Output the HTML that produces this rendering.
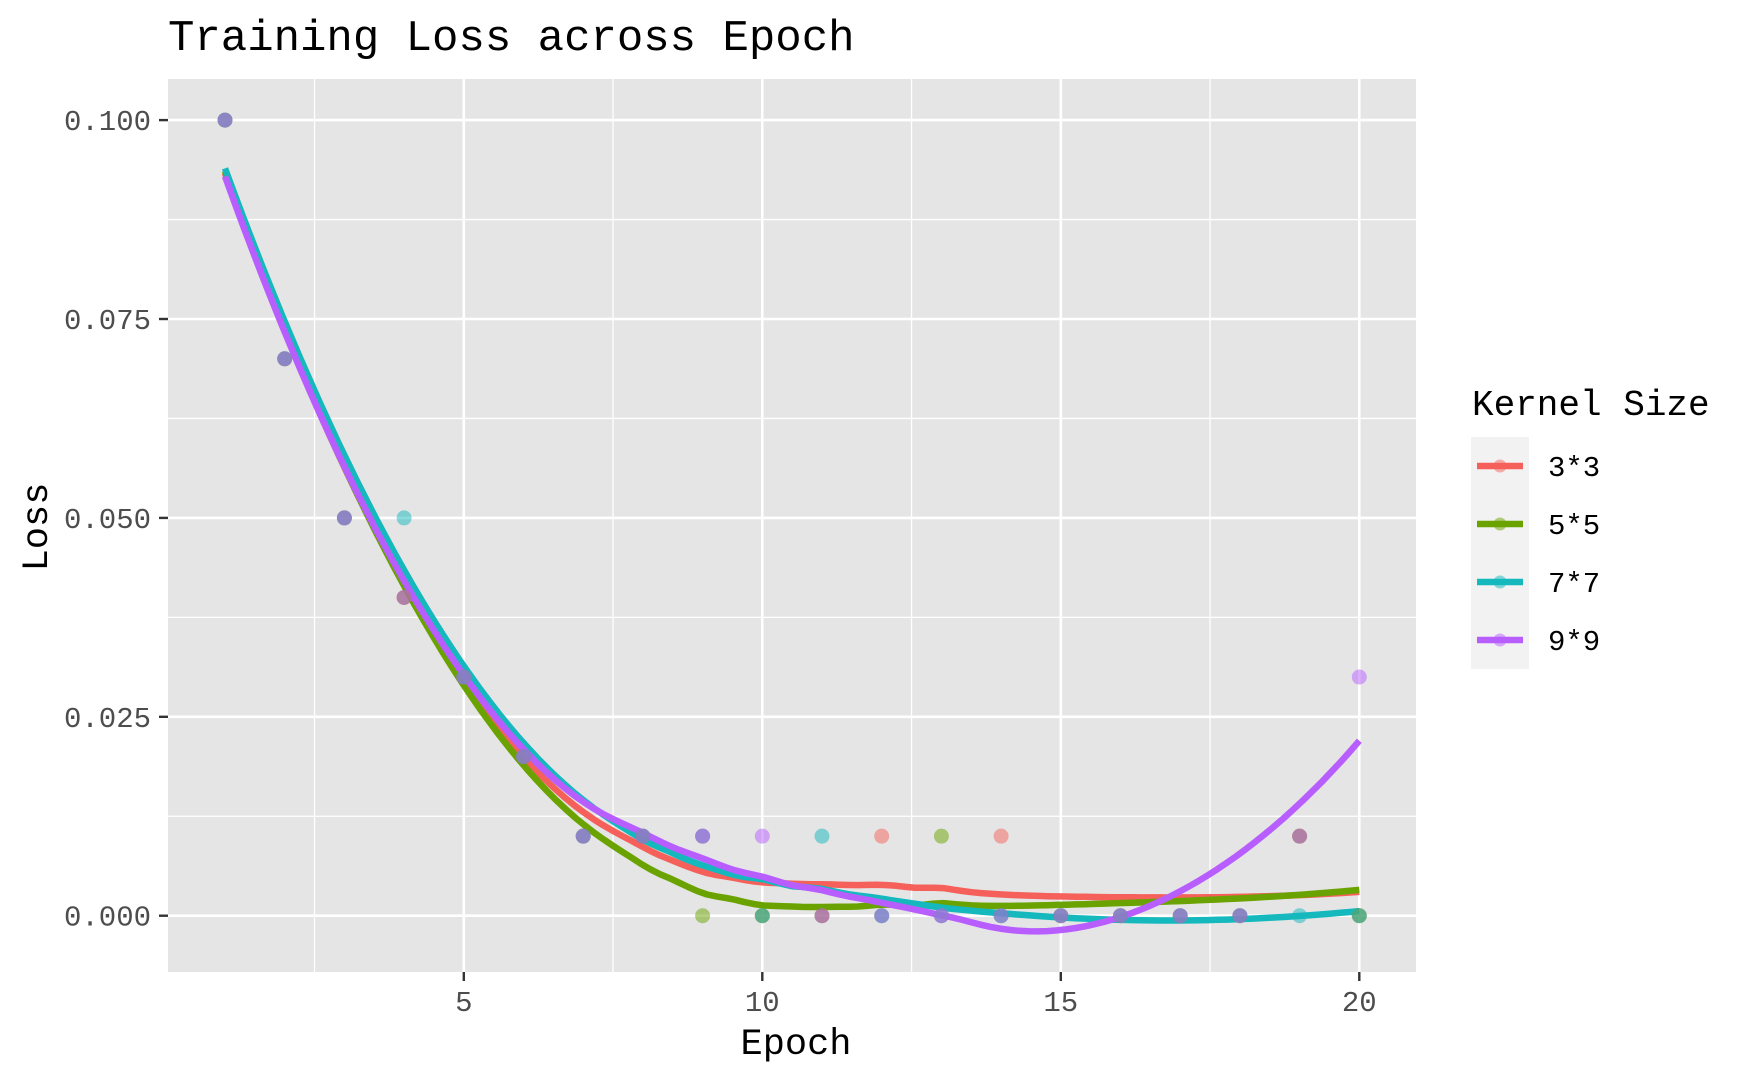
<!DOCTYPE html>
<html><head><meta charset="utf-8"><style>
html,body{margin:0;padding:0;background:#fff;}
svg{display:block;font-family:"Liberation Mono","DejaVu Sans Mono",monospace;}
</style></head><body>
<svg id="chart" width="1750" height="1081" viewBox="0 0 1750 1081">
<text x="168" y="50" font-size="44" fill="#000">Training Loss across Epoch</text>
<rect x="168" y="79" width="1248" height="893" fill="#E5E5E5"/>
<g id="grid"></g>
<g id="lines"></g>
<g id="points"></g>
<g id="axes"></g>
<text x="796" y="1054" font-size="37" text-anchor="middle" fill="#000">Epoch</text>
<text transform="translate(47,527) rotate(-90)" font-size="37" text-anchor="middle" fill="#000">Loss</text>
<g id="legend">
<text x="1472" y="415" font-size="36" fill="#000">Kernel Size</text>
</g>
</svg>
<script>
const epochs = [1,2,3,4,5,6,7,8,9,10,11,12,13,14,15,16,17,18,19,20];
const loss3 = [0.10,0.07,0.05,0.04,0.03,0.02,0.01,0.01,0.01,0,0,0.01,0,0.01,0,0,0,0,0.01,0];
const loss5 = [0.10,0.07,0.05,0.04,0.03,0.02,0.01,0.01,0,0,0,0,0.01,0,0,0,0,0,0.01,0];
const loss7 = [0.10,0.07,0.05,0.05,0.03,0.02,0.01,0.01,0.01,0,0.01,0,0,0,0,0,0,0,0,0];
const loss9 = [0.10,0.07,0.05,0.04,0.03,0.02,0.01,0.01,0.01,0.01,0,0,0,0,0,0,0,0,0.01,0.03];
const seriesNames = ["3*3","5*5","7*7","9*9"];
const seriesColors = ["#F5615A","#6AA300","#14B8BD","#B85EFF"];
const xTicks = [5,10,15,20];
const yTicks = [0,0.025,0.05,0.075,0.1];
const yTickLabels = ["0.000","0.025","0.050","0.075","0.100"];

const NS="http://www.w3.org/2000/svg";
const PL=168,PR=1416,PT=79,PB=972;
function xs(v){return 225+(v-1)*59.7;}
function ys(v){return 915.7-v*7956;}
function mk(tag,attrs,parent){const e=document.createElementNS(NS,tag);for(const k in attrs)e.setAttribute(k,attrs[k]);parent.appendChild(e);return e;}

const grid=document.getElementById('grid');
[2.5,7.5,12.5,17.5].forEach(v=>{const l=mk('line',{x1:xs(v),x2:xs(v),y1:PT,y2:PB,stroke:'#fff','stroke-width':1.3},grid);

});
[0.0125,0.0375,0.0625,0.0875].forEach(v=>{const l=mk('line',{x1:PL,x2:PR,y1:ys(v),y2:ys(v),stroke:'#fff','stroke-width':1.3},grid);

});
xTicks.forEach(v=>{const l=mk('line',{x1:xs(v),x2:xs(v),y1:PT,y2:PB,stroke:'#fff','stroke-width':2.6},grid);

});
yTicks.forEach(v=>{const l=mk('line',{x1:PL,x2:PR,y1:ys(v),y2:ys(v),stroke:'#fff','stroke-width':2.6},grid);

});

const axes=document.getElementById('axes');
xTicks.forEach(v=>{const t=mk('line',{x1:xs(v),x2:xs(v),y1:PB,y2:PB+9,stroke:'#333','stroke-width':2.4},axes);


const tx=mk('text',{x:xs(v),y:1011,'font-size':29,'text-anchor':'middle',fill:'#4D4D4D'},axes);tx.textContent=v;

});
yTicks.forEach((v,i)=>{const t=mk('line',{x1:PL-9,x2:PL,y1:ys(v),y2:ys(v),stroke:'#333','stroke-width':2.4},axes);


const tx=mk('text',{x:151,y:ys(v)+10,'font-size':29,'text-anchor':'end',fill:'#4D4D4D'},axes);tx.textContent=yTickLabels[i];

});

function loess(xv,yv,x0){
  const n=xv.length,q=Math.floor(n*0.75);
  const d=xv.map(x=>Math.abs(x-x0));const ds=d.slice().sort((a,b)=>a-b);
  const h=ds[q-1]*1.0000001||1;
  let S=[[0,0,0],[0,0,0],[0,0,0]],B=[0,0,0];
  for(let i=0;i<n;i++){const u=d[i]/h;if(u>=1)continue;const w=Math.pow(1-u*u*u,3);
    const dx=xv[i]-x0,f=[1,dx,dx*dx];
    for(let a=0;a<3;a++){B[a]+=w*f[a]*yv[i];for(let b=0;b<3;b++)S[a][b]+=w*f[a]*f[b];}}
  const M=S.map((r,i)=>r.concat([B[i]]));
  for(let c=0;c<3;c++){let p=c;for(let r=c+1;r<3;r++)if(Math.abs(M[r][c])>Math.abs(M[p][c]))p=r;[M[c],M[p]]=[M[p],M[c]];
    for(let r=0;r<3;r++){if(r===c)continue;const f=M[r][c]/M[c][c];for(let k=c;k<4;k++)M[r][k]-=f*M[c][k];}}
  return M[0][3]/M[0][0];
}
const allSeries=[loss3,loss5,loss7,loss9];
const linesG=document.getElementById('lines');
allSeries.forEach((s,si)=>{
  let pts=[];for(let k=0;k<=120;k++){const x=1+19*k/120;pts.push(xs(x).toFixed(1)+','+ys(loess(epochs,s,x)).toFixed(1));}
  const p=mk('polyline',{points:pts.join(' '),fill:'none',stroke:seriesColors[si],'stroke-width':6.5,'stroke-linejoin':'round'},linesG);
  
  
});
const ptsG=document.getElementById('points');
allSeries.forEach((s,si)=>{
  s.forEach((v,i)=>{const c=mk('circle',{cx:xs(epochs[i]),cy:ys(v),r:7.5,fill:seriesColors[si],'fill-opacity':0.5},ptsG);
  
  });
});

const lg=document.getElementById('legend');
seriesNames.forEach((nm,i)=>{const cy=466+58*i;
  const r=mk('rect',{x:1471,y:cy-29,width:58,height:58,fill:'#F2F2F2'},lg);
  
  
  const l=mk('line',{x1:1477,x2:1523,y1:cy,y2:cy,stroke:seriesColors[i],'stroke-width':6.5},lg);
  
  
  const c=mk('circle',{cx:1500,cy:cy,r:6.5,fill:seriesColors[i],'fill-opacity':0.5},lg);
  
  
  const t=mk('text',{x:1548,y:cy+10,'font-size':29,fill:'#000'},lg);t.textContent=nm;
  
  
});
</script>
</body></html>
